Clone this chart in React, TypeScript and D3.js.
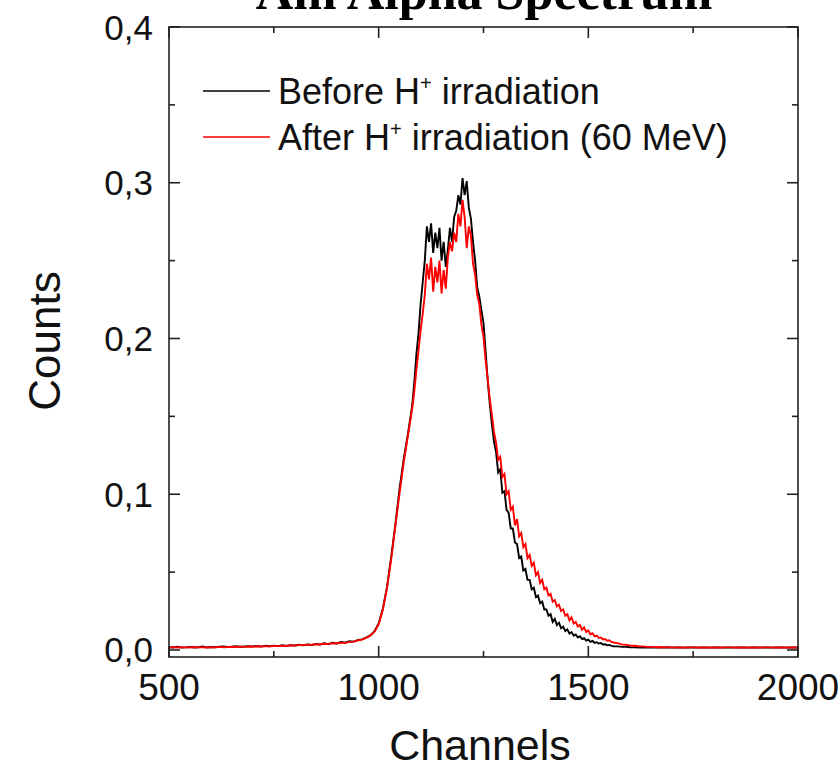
import React from "react";
import * as d3 from "d3";

// channel grid: coarse in flat tails, fine across the peak
const channelsLow: number[] = d3.range(500, 1080, 10);
const channelsMid: number[] = d3.range(1080, 1560, 5);
const channelsHigh: number[] = d3.range(1560, 2001, 10);
const channels: number[] = [...channelsLow, ...channelsMid, ...channelsHigh];

const beforeLow: number[] = [
  0.0018, 0.0016, 0.0021, 0.0015, 0.0017, 0.0020, 0.0016, 0.0018, 0.0022, 0.0017,
  0.0019, 0.0018, 0.0021, 0.0023, 0.0019, 0.0021, 0.0024, 0.0020, 0.0022, 0.0025,
  0.0023, 0.0026, 0.0022, 0.0027, 0.0024, 0.0028, 0.0025, 0.0030, 0.0026, 0.0031,
  0.0029, 0.0034, 0.0030, 0.0036, 0.0032, 0.0039, 0.0035, 0.0043, 0.0038, 0.0047,
  0.0042, 0.0051, 0.0047, 0.0056, 0.0054, 0.0063, 0.0068, 0.0079, 0.0094, 0.0120,
  0.0170, 0.0265, 0.0405, 0.0600, 0.0810, 0.1040, 0.1230, 0.1390,
];
const beforeMid: number[] = [
  0.157, 0.172, 0.190, 0.203, 0.222, 0.236, 0.250, 0.272, 0.262, 0.274,
  0.255, 0.268, 0.258, 0.271, 0.250, 0.262, 0.246, 0.257, 0.271, 0.262,
  0.278, 0.282, 0.292, 0.286, 0.303, 0.292, 0.301, 0.284, 0.277, 0.262,
  0.250, 0.233, 0.227, 0.218, 0.210, 0.192, 0.173, 0.158, 0.145, 0.134,
  0.127, 0.114, 0.116, 0.101, 0.102, 0.090, 0.088, 0.078, 0.078, 0.069,
  0.068, 0.059, 0.060, 0.051, 0.052, 0.045, 0.045, 0.039, 0.040, 0.034,
  0.035, 0.030, 0.031, 0.026, 0.026, 0.022, 0.023, 0.018, 0.020, 0.016,
  0.0175, 0.0140, 0.0150, 0.0122, 0.0132, 0.0105, 0.0115, 0.0092, 0.0100, 0.0080,
  0.0088, 0.0070, 0.0076, 0.0060, 0.0066, 0.0052, 0.0058, 0.0046, 0.0050, 0.0041,
  0.0044, 0.0035, 0.0037, 0.0030, 0.0032, 0.0026,
];
const beforeHigh: number[] = [
  0.0024, 0.0023, 0.0020, 0.0020, 0.0018,
  0.0017, 0.0016, 0.0018, 0.0016, 0.0017, 0.0015, 0.0017, 0.0016, 0.0016, 0.0015,
  0.0017, 0.0016, 0.0015, 0.0016, 0.0017, 0.0015, 0.0016, 0.0016, 0.0015, 0.0017,
  0.0016, 0.0015, 0.0016, 0.0016, 0.0015, 0.0017, 0.0016, 0.0015, 0.0016, 0.0016,
  0.0015, 0.0016, 0.0017, 0.0015, 0.0016, 0.0016, 0.0015, 0.0016, 0.0016, 0.0015,
];

const afterLow: number[] = [
  0.0017, 0.0019, 0.0016, 0.0018, 0.0017, 0.0016, 0.0019, 0.0017, 0.0018, 0.0016,
  0.0018, 0.0017, 0.0020, 0.0018, 0.0019, 0.0021, 0.0019, 0.0022, 0.0020, 0.0022,
  0.0021, 0.0024, 0.0022, 0.0025, 0.0023, 0.0026, 0.0025, 0.0028, 0.0026, 0.0030,
  0.0028, 0.0032, 0.0031, 0.0034, 0.0033, 0.0037, 0.0035, 0.0040, 0.0038, 0.0043,
  0.0042, 0.0047, 0.0046, 0.0052, 0.0054, 0.0061, 0.0067, 0.0078, 0.0092, 0.0118,
  0.0165, 0.0260, 0.0400, 0.0585, 0.0800, 0.1010, 0.1210, 0.1380,
];
const afterMid: number[] = [
  0.155, 0.166, 0.180, 0.192, 0.205, 0.216, 0.228, 0.248, 0.238, 0.252,
  0.230, 0.246, 0.236, 0.250, 0.229, 0.244, 0.232, 0.252, 0.262, 0.256,
  0.268, 0.262, 0.280, 0.272, 0.289, 0.278, 0.258, 0.272, 0.266, 0.248,
  0.241, 0.228, 0.222, 0.209, 0.201, 0.186, 0.174, 0.161, 0.151, 0.140,
  0.133, 0.122, 0.124, 0.111, 0.113, 0.100, 0.102, 0.090, 0.092, 0.080,
  0.084, 0.073, 0.075, 0.066, 0.068, 0.059, 0.061, 0.054, 0.056, 0.048,
  0.050, 0.043, 0.045, 0.039, 0.040, 0.035, 0.036, 0.031, 0.032, 0.028,
  0.029, 0.025, 0.026, 0.022, 0.023, 0.019, 0.021, 0.017, 0.018, 0.015,
  0.016, 0.013, 0.0145, 0.0115, 0.0125, 0.0100, 0.0108, 0.0088, 0.0092, 0.0078,
  0.0080, 0.0068, 0.0070, 0.0060, 0.0062, 0.0052,
];
const afterHigh: number[] = [
  0.0048, 0.0044, 0.0036, 0.0033, 0.0029,
  0.0027, 0.0024, 0.0023, 0.0020, 0.0020, 0.0018, 0.0019, 0.0017, 0.0018,
  0.0017, 0.0016, 0.0017, 0.0016, 0.0017, 0.0017, 0.0016, 0.0017, 0.0016, 0.0017,
  0.0016, 0.0017, 0.0016, 0.0017, 0.0017, 0.0016, 0.0017, 0.0016, 0.0017, 0.0016,
  0.0017, 0.0016, 0.0017, 0.0017, 0.0016, 0.0017, 0.0016, 0.0017, 0.0016, 0.0017,
  0.0016,
];

const beforeCounts: number[] = [...beforeLow, ...beforeMid, ...beforeHigh];
const afterCounts: number[] = [...afterLow, ...afterMid, ...afterHigh];

const xMajorTicks: number[] = [500, 1000, 1500, 2000];
const xMinorTicks: number[] = [750, 1250, 1750];
const yMajorTicks: number[] = [0, 0.1, 0.2, 0.3, 0.4];
const yMinorTicks: number[] = [0.05, 0.15, 0.25, 0.35];
const yTickLabels: string[] = ["0,0", "0,1", "0,2", "0,3", "0,4"];

const W = 840;
const H = 775;
const L = 169;
const R = 798;
const T = 27;
const B = 657;

export default function App() {
  const x = d3.scaleLinear().domain([500, 2000]).range([L, R]);
  const y = d3.scaleLinear().domain([-0.0045, 0.4]).range([B, T]);
  const line = d3
    .line<number>()
    .x((_, i) => x(channels[i]))
    .y((d) => y(d));

  const sans = "'Liberation Sans', Arial, sans-serif";
  const major = 11;
  const minor = 6;
  const axisColor = "#222";

  return (
    <svg
      width={W}
      height={H}
      style={{ position: "absolute", left: 0, top: 0, background: "#fff" }}
    >
      <rect x={0} y={0} width={W} height={H} fill="#fff" />
      <text
        x={484}
        y={9}
        textAnchor="middle"
        fontFamily="'Liberation Serif', 'Times New Roman', serif"
        fontWeight="bold"
        fontSize={52}
        fill="#000"
      >
        Am Alpha Spectrum
      </text>

      <clipPath id="plot">
        <rect x={L} y={T} width={R - L} height={B - T} />
      </clipPath>
      <g clipPath="url(#plot)">
        <path d={line(beforeCounts) || ""} fill="none" stroke="#000" strokeWidth={1.9} />
        <path d={line(afterCounts) || ""} fill="none" stroke="#ff0000" strokeWidth={1.9} />
      </g>

      <rect x={L} y={T} width={R - L} height={B - T} fill="none" stroke={axisColor} strokeWidth={1.6} />

      {xMajorTicks.map((t) => (
        <g key={"xM" + t}>
          <line x1={x(t)} x2={x(t)} y1={B} y2={B - major} stroke={axisColor} strokeWidth={1.6} />
          <line x1={x(t)} x2={x(t)} y1={T} y2={T + major} stroke={axisColor} strokeWidth={1.6} />
          <text x={x(t)} y={700} textAnchor="middle" fontFamily={sans} fontSize={37} fill="#111">
            {t}
          </text>
        </g>
      ))}
      {xMinorTicks.map((t) => (
        <g key={"xm" + t}>
          <line x1={x(t)} x2={x(t)} y1={B} y2={B - minor} stroke={axisColor} strokeWidth={1.6} />
          <line x1={x(t)} x2={x(t)} y1={T} y2={T + minor} stroke={axisColor} strokeWidth={1.6} />
        </g>
      ))}

      {yMajorTicks.map((t, i) => (
        <g key={"yM" + t}>
          <line x1={L} x2={L + major} y1={y(t)} y2={y(t)} stroke={axisColor} strokeWidth={1.6} />
          <line x1={R} x2={R - major} y1={y(t)} y2={y(t)} stroke={axisColor} strokeWidth={1.6} />
          <text x={153} y={y(t) + 12.5} textAnchor="end" fontFamily={sans} fontSize={35} fill="#111">
            {yTickLabels[i]}
          </text>
        </g>
      ))}
      {yMinorTicks.map((t) => (
        <g key={"ym" + t}>
          <line x1={L} x2={L + minor} y1={y(t)} y2={y(t)} stroke={axisColor} strokeWidth={1.6} />
          <line x1={R} x2={R - minor} y1={y(t)} y2={y(t)} stroke={axisColor} strokeWidth={1.6} />
        </g>
      ))}

      <text
        transform="translate(60,341) rotate(-90)"
        textAnchor="middle"
        fontFamily={sans}
        fontSize={44}
        fill="#111"
      >
        Counts
      </text>
      <text x={480} y={760} textAnchor="middle" fontFamily={sans} fontSize={43} fill="#111">
        Channels
      </text>

      <line x1={203} x2={270} y1={91} y2={91} stroke="#000" strokeWidth={1.7} />
      <text x={278} y={104} fontFamily={sans} fontSize={36} fill="#111">
        Before H
        <tspan fontSize={20} dy={-14}>+</tspan>
        <tspan dy={14}> irradiation</tspan>
      </text>
      <line x1={203} x2={270} y1={137} y2={137} stroke="#ff0000" strokeWidth={1.7} />
      <text x={278} y={150} fontFamily={sans} fontSize={36} fill="#111">
        After H
        <tspan fontSize={20} dy={-14}>+</tspan>
        <tspan dy={14}> irradiation (60 MeV)</tspan>
      </text>
    </svg>
  );
}
